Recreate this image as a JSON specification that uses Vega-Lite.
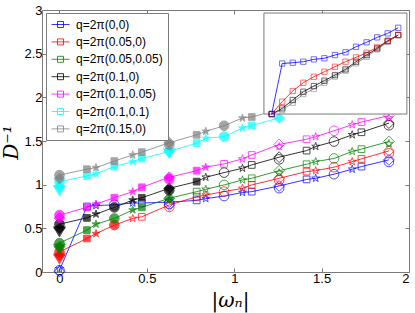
{
  "$schema": "https://vega.github.io/schema/vega-lite/v6.json",
  "width": 367,
  "height": 262,
  "autosize": {"type": "none"},
  "padding": {"left": 42, "top": 10, "right": 6, "bottom": 41},
  "background": "white",
  "config": {
    "view": {"stroke": null},
    "font": "Liberation Sans",
    "axis": {"domainColor": "#7a7a7a", "tickColor": "#7a7a7a", "tickSize": -4, "labelColor": "#000000", "labelFontSize": 13, "labelFont": "Liberation Sans", "grid": false, "labelPadding": 4}
  },
  "datasets": {
    "main": [
      {"q":"(0,0)","x":0,"y":0.02,"m":"o","set":"b"},
      {"q":"(0,0)","x":0.157,"y":0.75,"m":"s","set":"b"},
      {"q":"(0,0)","x":0.209,"y":0.76,"m":"p","set":"b"},
      {"q":"(0,0)","x":0.314,"y":0.77,"m":"o","set":"b"},
      {"q":"(0,0)","x":0.419,"y":0.79,"m":"p","set":"b"},
      {"q":"(0,0)","x":0.471,"y":0.79,"m":"s","set":"b"},
      {"q":"(0,0)","x":0.628,"y":0.8,"m":"d","set":"b"},
      {"q":"(0,0)","x":0.785,"y":0.82,"m":"s","set":"b"},
      {"q":"(0,0)","x":0.837,"y":0.84,"m":"p","set":"b"},
      {"q":"(0,0)","x":0.942,"y":0.87,"m":"o","set":"b"},
      {"q":"(0,0)","x":1.047,"y":0.91,"m":"p","set":"b"},
      {"q":"(0,0)","x":1.1,"y":0.92,"m":"s","set":"b"},
      {"q":"(0,0)","x":1.257,"y":0.985,"m":"d","set":"b"},
      {"q":"(0,0)","x":1.414,"y":1.06,"m":"s","set":"b"},
      {"q":"(0,0)","x":1.466,"y":1.073,"m":"p","set":"b"},
      {"q":"(0,0)","x":1.571,"y":1.12,"m":"o","set":"b"},
      {"q":"(0,0)","x":1.675,"y":1.177,"m":"p","set":"b"},
      {"q":"(0,0)","x":1.728,"y":1.207,"m":"s","set":"b"},
      {"q":"(0,0)","x":1.885,"y":1.284,"m":"d","set":"b"},

      {"q":"(0.05,0)","x":0,"y":0.23,"m":"o","set":"a"},
      {"q":"(0.05,0)","x":0.157,"y":0.384,"m":"s","set":"a"},
      {"q":"(0.05,0)","x":0.209,"y":0.44,"m":"p","set":"a"},
      {"q":"(0.05,0)","x":0.314,"y":0.537,"m":"o","set":"a"},
      {"q":"(0.05,0)","x":0.419,"y":0.613,"m":"p","set":"b"},
      {"q":"(0.05,0)","x":0.471,"y":0.632,"m":"s","set":"b"},
      {"q":"(0.05,0)","x":0.628,"y":0.767,"m":"d","set":"b"},
      {"q":"(0.05,0)","x":0.785,"y":0.862,"m":"s","set":"b"},
      {"q":"(0.05,0)","x":0.837,"y":0.882,"m":"p","set":"b"},
      {"q":"(0.05,0)","x":0.942,"y":0.92,"m":"o","set":"b"},
      {"q":"(0.05,0)","x":1.047,"y":0.958,"m":"p","set":"b"},
      {"q":"(0.05,0)","x":1.1,"y":0.997,"m":"s","set":"b"},
      {"q":"(0.05,0)","x":1.257,"y":1.073,"m":"d","set":"b"},
      {"q":"(0.05,0)","x":1.414,"y":1.15,"m":"s","set":"b"},
      {"q":"(0.05,0)","x":1.466,"y":1.16,"m":"p","set":"b"},
      {"q":"(0.05,0)","x":1.571,"y":1.2,"m":"o","set":"b"},
      {"q":"(0.05,0)","x":1.675,"y":1.264,"m":"p","set":"b"},
      {"q":"(0.05,0)","x":1.728,"y":1.295,"m":"s","set":"b"},
      {"q":"(0.05,0)","x":1.885,"y":1.387,"m":"d","set":"b"},

      {"q":"(0.05,0.05)","x":0,"y":0.33,"m":"o","set":"a"},
      {"q":"(0.05,0.05)","x":0.157,"y":0.48,"m":"s","set":"a"},
      {"q":"(0.05,0.05)","x":0.209,"y":0.548,"m":"p","set":"a"},
      {"q":"(0.05,0.05)","x":0.314,"y":0.613,"m":"o","set":"a"},
      {"q":"(0.05,0.05)","x":0.419,"y":0.71,"m":"p","set":"a"},
      {"q":"(0.05,0.05)","x":0.471,"y":0.74,"m":"s","set":"a"},
      {"q":"(0.05,0.05)","x":0.628,"y":0.844,"m":"d","set":"a"},
      {"q":"(0.05,0.05)","x":0.785,"y":0.92,"m":"s","set":"b"},
      {"q":"(0.05,0.05)","x":0.837,"y":0.947,"m":"p","set":"b"},
      {"q":"(0.05,0.05)","x":0.942,"y":0.997,"m":"o","set":"b"},
      {"q":"(0.05,0.05)","x":1.047,"y":1.054,"m":"p","set":"b"},
      {"q":"(0.05,0.05)","x":1.1,"y":1.073,"m":"s","set":"b"},
      {"q":"(0.05,0.05)","x":1.257,"y":1.16,"m":"d","set":"b"},
      {"q":"(0.05,0.05)","x":1.414,"y":1.234,"m":"s","set":"b"},
      {"q":"(0.05,0.05)","x":1.466,"y":1.264,"m":"p","set":"b"},
      {"q":"(0.05,0.05)","x":1.571,"y":1.3,"m":"o","set":"b"},
      {"q":"(0.05,0.05)","x":1.675,"y":1.38,"m":"p","set":"b"},
      {"q":"(0.05,0.05)","x":1.728,"y":1.407,"m":"s","set":"b"},
      {"q":"(0.05,0.05)","x":1.885,"y":1.494,"m":"d","set":"b"},

      {"q":"(0.1,0)","x":0,"y":0.548,"m":"o","set":"a"},
      {"q":"(0.1,0)","x":0.157,"y":0.62,"m":"s","set":"a"},
      {"q":"(0.1,0)","x":0.209,"y":0.663,"m":"p","set":"a"},
      {"q":"(0.1,0)","x":0.314,"y":0.74,"m":"o","set":"a"},
      {"q":"(0.1,0)","x":0.419,"y":0.824,"m":"p","set":"a"},
      {"q":"(0.1,0)","x":0.471,"y":0.85,"m":"s","set":"a"},
      {"q":"(0.1,0)","x":0.628,"y":0.958,"m":"d","set":"a"},
      {"q":"(0.1,0)","x":0.785,"y":1.035,"m":"s","set":"a"},
      {"q":"(0.1,0)","x":0.837,"y":1.085,"m":"p","set":"b"},
      {"q":"(0.1,0)","x":0.942,"y":1.138,"m":"o","set":"b"},
      {"q":"(0.1,0)","x":1.047,"y":1.188,"m":"p","set":"b"},
      {"q":"(0.1,0)","x":1.1,"y":1.226,"m":"s","set":"b"},
      {"q":"(0.1,0)","x":1.257,"y":1.315,"m":"d","set":"b"},
      {"q":"(0.1,0)","x":1.414,"y":1.39,"m":"s","set":"b"},
      {"q":"(0.1,0)","x":1.466,"y":1.437,"m":"p","set":"b"},
      {"q":"(0.1,0)","x":1.571,"y":1.494,"m":"o","set":"b"},
      {"q":"(0.1,0)","x":1.675,"y":1.571,"m":"p","set":"b"},
      {"q":"(0.1,0)","x":1.728,"y":1.6,"m":"s","set":"b"},
      {"q":"(0.1,0)","x":1.885,"y":1.705,"m":"d","set":"b"},

      {"q":"(0.1,0.05)","x":0,"y":0.652,"m":"o","set":"a"},
      {"q":"(0.1,0.05)","x":0.157,"y":0.74,"m":"s","set":"a"},
      {"q":"(0.1,0.05)","x":0.209,"y":0.778,"m":"p","set":"a"},
      {"q":"(0.1,0.05)","x":0.314,"y":0.85,"m":"s","set":"a"},
      {"q":"(0.1,0.05)","x":0.419,"y":0.92,"m":"p","set":"a"},
      {"q":"(0.1,0.05)","x":0.471,"y":0.97,"m":"s","set":"a"},
      {"q":"(0.1,0.05)","x":0.628,"y":1.085,"m":"d","set":"a"},
      {"q":"(0.1,0.05)","x":0.785,"y":1.16,"m":"s","set":"a"},
      {"q":"(0.1,0.05)","x":0.837,"y":1.2,"m":"p","set":"a"},
      {"q":"(0.1,0.05)","x":0.942,"y":1.238,"m":"s","set":"b"},
      {"q":"(0.1,0.05)","x":1.047,"y":1.295,"m":"p","set":"b"},
      {"q":"(0.1,0.05)","x":1.1,"y":1.34,"m":"s","set":"b"},
      {"q":"(0.1,0.05)","x":1.257,"y":1.46,"m":"d","set":"b"},
      {"q":"(0.1,0.05)","x":1.414,"y":1.52,"m":"s","set":"b"},
      {"q":"(0.1,0.05)","x":1.466,"y":1.55,"m":"p","set":"b"},
      {"q":"(0.1,0.05)","x":1.571,"y":1.617,"m":"o","set":"b"},
      {"q":"(0.1,0.05)","x":1.675,"y":1.686,"m":"p","set":"b"},
      {"q":"(0.1,0.05)","x":1.728,"y":1.717,"m":"s","set":"b"},
      {"q":"(0.1,0.05)","x":1.885,"y":1.79,"m":"d","set":"b"},

      {"q":"(0.1,0.1)","x":0,"y":1.034,"m":"o","set":"a"},
      {"q":"(0.1,0.1)","x":0.157,"y":1.1,"m":"s","set":"a"},
      {"q":"(0.1,0.1)","x":0.209,"y":1.123,"m":"p","set":"a"},
      {"q":"(0.1,0.1)","x":0.314,"y":1.207,"m":"s","set":"a"},
      {"q":"(0.1,0.1)","x":0.419,"y":1.264,"m":"p","set":"a"},
      {"q":"(0.1,0.1)","x":0.471,"y":1.3,"m":"s","set":"a"},
      {"q":"(0.1,0.1)","x":0.628,"y":1.38,"m":"d","set":"a"},
      {"q":"(0.1,0.1)","x":0.785,"y":1.476,"m":"s","set":"a"},
      {"q":"(0.1,0.1)","x":0.837,"y":1.53,"m":"p","set":"a"},
      {"q":"(0.1,0.1)","x":0.942,"y":1.55,"m":"o","set":"a"},
      {"q":"(0.1,0.1)","x":1.047,"y":1.648,"m":"p","set":"a"},
      {"q":"(0.1,0.1)","x":1.1,"y":1.678,"m":"s","set":"a"},
      {"q":"(0.1,0.1)","x":1.257,"y":1.763,"m":"d","set":"a"},

      {"q":"(0.15,0)","x":0,"y":1.11,"m":"o","set":"a"},
      {"q":"(0.15,0)","x":0.157,"y":1.177,"m":"s","set":"a"},
      {"q":"(0.15,0)","x":0.209,"y":1.195,"m":"p","set":"a"},
      {"q":"(0.15,0)","x":0.314,"y":1.27,"m":"s","set":"a"},
      {"q":"(0.15,0)","x":0.419,"y":1.34,"m":"p","set":"a"},
      {"q":"(0.15,0)","x":0.471,"y":1.372,"m":"s","set":"a"},
      {"q":"(0.15,0)","x":0.628,"y":1.48,"m":"d","set":"a"},
      {"q":"(0.15,0)","x":0.785,"y":1.571,"m":"s","set":"a"},
      {"q":"(0.15,0)","x":0.837,"y":1.61,"m":"p","set":"a"},
      {"q":"(0.15,0)","x":0.942,"y":1.675,"m":"o","set":"a"},
      {"q":"(0.15,0)","x":1.047,"y":1.763,"m":"p","set":"a"},
      {"q":"(0.15,0)","x":1.1,"y":1.775,"m":"s","set":"a"},
      {"q":"(0.15,0)","x":1.257,"y":1.86,"m":"d","set":"a"}
    ],
    "extra": [
      {"q":"(0,0)","x":0,"y":0.035,"m":"p","set":"b"},
      {"q":"(0,0)","x":0,"y":0.005,"m":"d","set":"b"},
      {"q":"(0.05,0)","x":0,"y":0.19,"m":"d","set":"a"},
      {"q":"(0.05,0)","x":0,"y":0.15,"m":"v","set":"a"},
      {"q":"(0.05,0.05)","x":0,"y":0.29,"m":"d","set":"a"},
      {"q":"(0.05,0.05)","x":0,"y":0.26,"m":"v","set":"a"},
      {"q":"(0.1,0)","x":0,"y":0.5,"m":"d","set":"a"},
      {"q":"(0.1,0)","x":0,"y":0.46,"m":"v","set":"a"},
      {"q":"(0.1,0.05)","x":0,"y":0.62,"m":"d","set":"a"},
      {"q":"(0.1,0.1)","x":0,"y":0.98,"m":"d","set":"a"},
      {"q":"(0.1,0.1)","x":0,"y":0.93,"m":"v","set":"a"},
      {"q":"(0.15,0)","x":0,"y":1.07,"m":"d","set":"a"},
      {"q":"(0,0)","x":0.628,"y":0.78,"m":"o","set":"b"},
      {"q":"(0.05,0)","x":0.628,"y":0.745,"m":"o","set":"b"},
      {"q":"(0.05,0.05)","x":0.628,"y":0.82,"m":"p","set":"a"},
      {"q":"(0.1,0)","x":0.628,"y":0.935,"m":"o","set":"a"},
      {"q":"(0.1,0.05)","x":0.628,"y":1.06,"m":"o","set":"a"},
      {"q":"(0.1,0.1)","x":0.628,"y":1.355,"m":"v","set":"a"},
      {"q":"(0.15,0)","x":0.628,"y":1.455,"m":"o","set":"a"},
      {"q":"(0,0)","x":1.257,"y":0.96,"m":"o","set":"b"},
      {"q":"(0.05,0)","x":1.257,"y":1.05,"m":"o","set":"b"},
      {"q":"(0.05,0.05)","x":1.257,"y":1.135,"m":"p","set":"b"},
      {"q":"(0.1,0)","x":1.257,"y":1.29,"m":"o","set":"b"},
      {"q":"(0.1,0.05)","x":1.257,"y":1.435,"m":"p","set":"b"},
      {"q":"(0,0)","x":1.885,"y":1.26,"m":"o","set":"b"},
      {"q":"(0.05,0)","x":1.885,"y":1.36,"m":"o","set":"b"},
      {"q":"(0.05,0.05)","x":1.885,"y":1.47,"m":"p","set":"b"},
      {"q":"(0.1,0)","x":1.885,"y":1.68,"m":"o","set":"b"},
      {"q":"(0.1,0.05)","x":1.885,"y":1.765,"m":"p","set":"b"}
    ],
    "inset": [
      {"q":"(0.15,0)","n":0,"y":0},{"q":"(0.15,0)","n":1,"y":0.04},{"q":"(0.15,0)","n":2,"y":0.112},{"q":"(0.15,0)","n":3,"y":0.198},{"q":"(0.15,0)","n":4,"y":0.248},{"q":"(0.15,0)","n":5,"y":0.31},{"q":"(0.15,0)","n":6,"y":0.37},{"q":"(0.15,0)","n":7,"y":0.429},{"q":"(0.15,0)","n":8,"y":0.502},{"q":"(0.15,0)","n":9,"y":0.567},{"q":"(0.15,0)","n":10,"y":0.64},{"q":"(0.15,0)","n":11,"y":0.713},{"q":"(0.15,0)","n":12,"y":0.782},
      {"q":"(0.1,0)","n":0,"y":0},{"q":"(0.1,0)","n":1,"y":0.056},{"q":"(0.1,0)","n":2,"y":0.139},{"q":"(0.1,0)","n":3,"y":0.221},{"q":"(0.1,0)","n":4,"y":0.277},{"q":"(0.1,0)","n":5,"y":0.33},{"q":"(0.1,0)","n":6,"y":0.386},{"q":"(0.1,0)","n":7,"y":0.442},{"q":"(0.1,0)","n":8,"y":0.518},{"q":"(0.1,0)","n":9,"y":0.584},{"q":"(0.1,0)","n":10,"y":0.65},{"q":"(0.1,0)","n":11,"y":0.723},{"q":"(0.1,0)","n":12,"y":0.782},
      {"q":"(0.05,0)","n":0,"y":0},{"q":"(0.05,0)","n":1,"y":0.122},{"q":"(0.05,0)","n":2,"y":0.228},{"q":"(0.05,0)","n":3,"y":0.31},{"q":"(0.05,0)","n":4,"y":0.369},{"q":"(0.05,0)","n":5,"y":0.419},{"q":"(0.05,0)","n":6,"y":0.468},{"q":"(0.05,0)","n":7,"y":0.518},{"q":"(0.05,0)","n":8,"y":0.561},{"q":"(0.05,0)","n":9,"y":0.607},{"q":"(0.05,0)","n":10,"y":0.66},{"q":"(0.05,0)","n":11,"y":0.726},{"q":"(0.05,0)","n":12,"y":0.782},
      {"q":"(0,0)","n":0,"y":0},{"q":"(0,0)","n":1,"y":0.5},{"q":"(0,0)","n":2,"y":0.508},{"q":"(0,0)","n":3,"y":0.518},{"q":"(0,0)","n":4,"y":0.541},{"q":"(0,0)","n":5,"y":0.552},{"q":"(0,0)","n":6,"y":0.584},{"q":"(0,0)","n":7,"y":0.611},{"q":"(0,0)","n":8,"y":0.666},{"q":"(0,0)","n":9,"y":0.71},{"q":"(0,0)","n":10,"y":0.759},{"q":"(0,0)","n":11,"y":0.799},{"q":"(0,0)","n":12,"y":0.854}
    ]
  },
  "layer": [
    {
      "layer": [
        {
          "data": {"name": "main"},
          "mark": {"type": "line", "strokeWidth": 0.8},
          "encoding": {
            "x": {"field": "x", "type": "quantitative", "scale": {"domain": [-0.1, 2], "nice": false, "zero": false},
                  "axis": {"orient": "bottom", "values": [0, 0.5, 1, 1.5, 2], "format": "~g", "title": "|ωₙ|", "titleFont": "DejaVu Serif", "titleFontStyle": "italic", "titleFontWeight": "normal", "titleFontSize": 20, "titleColor": "#000000", "titleX": 188, "titleY": 34, "titleAlign": "center", "titleBaseline": "alphabetic"}},
            "y": {"field": "y", "type": "quantitative", "scale": {"domain": [0, 3], "nice": false, "zero": false},
                  "axis": {"orient": "left", "values": [0, 0.5, 1, 1.5, 2, 2.5, 3], "format": "~g", "title": "D⁻¹", "titleFont": "DejaVu Serif", "titleFontStyle": "italic", "titleFontWeight": "normal", "titleFontSize": 20, "titleColor": "#000000", "titleX": -25, "titleY": 132, "titleAngle": -90, "titleAlign": "center", "titleBaseline": "alphabetic"}},
            "color": {"field": "q", "type": "nominal",
                      "scale": {"domain": ["(0,0)", "(0.05,0)", "(0.05,0.05)", "(0.1,0)", "(0.1,0.05)", "(0.1,0.1)", "(0.15,0)"], "range": ["#0000ff", "#ff0000", "#008000", "#000000", "#ff00ff", "#00ffff", "#808080"]},
                      "legend": {"orient": "none", "legendX": 4, "legendY": 3, "title": null, "strokeColor": "#7a7a7a", "fillColor": "white", "padding": 5, "symbolType": "M-1.5,0H1.5M-0.5,-0.5H0.5V0.5H-0.5Z", "symbolSize": 144, "symbolStrokeWidth": 0.8, "labelFontSize": 12, "labelFont": "Liberation Sans", "labelColor": "#000000", "labelOffset": 9, "rowPadding": 4.4, "symbolOffset": 3, "labelExpr": "'q=2π' + datum.label", "cornerRadius": 0,
                                 "encode": {"symbols": {"update": {"fill": {"value": "transparent"}, "fillOpacity": {"value": 0}}}}}},
            "order": {"field": "x", "type": "quantitative"}
          }
        },
        {
          "data": {"name": "main"},
          "mark": {"type": "point", "filled": true, "strokeWidth": 1},
          "encoding": {
            "x": {"field": "x", "type": "quantitative", "scale": {"domain": [-0.1, 2], "nice": false, "zero": false},
                  "axis": {"orient": "top", "values": [0, 0.5, 1, 1.5, 2], "labels": false, "title": null}},
            "y": {"field": "y", "type": "quantitative", "scale": {"domain": [0, 3], "nice": false, "zero": false},
                  "axis": {"orient": "right", "values": [0, 0.5, 1, 1.5, 2, 2.5, 3], "labels": false, "title": null}},
            "shape": {"field": "m", "type": "nominal", "legend": null,
                      "scale": {"domain": ["s", "p", "o", "d", "v"], "range": ["square", "M0,-1L0.225,-0.309L0.951,-0.309L0.363,0.118L0.588,0.809L0,0.382L-0.588,0.809L-0.363,0.118L-0.951,-0.309L-0.225,-0.309Z", "circle", "diamond", "triangle-down"]}},
            "size": {"field": "m", "type": "nominal", "legend": null,
                     "scale": {"domain": ["s", "p", "o", "d", "v"], "range": [45, 140, 55, 100, 70]}},
            "stroke": {"field": "q", "type": "nominal", "legend": null,
                       "scale": {"domain": ["(0,0)", "(0.05,0)", "(0.05,0.05)", "(0.1,0)", "(0.1,0.05)", "(0.1,0.1)", "(0.15,0)"], "range": ["#0000ff", "#ff0000", "#008000", "#000000", "#ff00ff", "#00ffff", "#808080"]}},
            "fill": {"field": "q", "type": "nominal", "legend": null,
                     "scale": {"domain": ["(0,0)", "(0.05,0)", "(0.05,0.05)", "(0.1,0)", "(0.1,0.05)", "(0.1,0.1)", "(0.15,0)"], "range": ["#0000ff", "#ff0000", "#008000", "#000000", "#ff00ff", "#00ffff", "#808080"]}},
            "fillOpacity": {"field": "set", "type": "nominal", "legend": null, "scale": {"domain": ["a", "b"], "range": [1, 0]}}
          }
        },
        {
          "data": {"name": "extra"},
          "mark": {"type": "point", "filled": true, "strokeWidth": 1},
          "encoding": {
            "x": {"field": "x", "type": "quantitative", "scale": {"domain": [-0.1, 2], "nice": false, "zero": false}, "axis": null},
            "y": {"field": "y", "type": "quantitative", "scale": {"domain": [0, 3], "nice": false, "zero": false}, "axis": null},
            "shape": {"field": "m", "type": "nominal", "legend": null},
            "size": {"field": "m", "type": "nominal", "legend": null},
            "stroke": {"field": "q", "type": "nominal", "legend": null},
            "fill": {"field": "q", "type": "nominal", "legend": null},
            "fillOpacity": {"field": "set", "type": "nominal", "legend": null}
          }
        }
      ],
      "resolve": {"axis": {"x": "independent", "y": "independent"}}
    },
    {
      "layer": [
        {
          "data": {"values": [{}]},
          "mark": {"type": "rect", "fill": "white", "stroke": "#7a7a7a", "strokeWidth": 1},
          "encoding": {
            "x": {"datum": -0.73, "type": "quantitative", "scale": {"domain": [-21.77, 13.02], "nice": false, "zero": false}, "axis": null},
            "x2": {"datum": 12.82},
            "y": {"datum": 0, "type": "quantitative", "scale": {"domain": [-1.564, 1.03], "nice": false, "zero": false}, "axis": null},
            "y2": {"datum": 1}
          }
        },
        {
          "data": {"name": "inset"},
          "mark": {"type": "line", "strokeWidth": 0.8},
          "encoding": {
            "x": {"field": "n", "type": "quantitative", "axis": null},
            "y": {"field": "y", "type": "quantitative", "axis": null},
            "stroke": {"field": "q", "type": "nominal", "legend": null},
            "order": {"field": "n", "type": "quantitative"}
          }
        },
        {
          "data": {"name": "inset"},
          "mark": {"type": "point", "shape": "square", "size": 28, "strokeWidth": 0.8, "filled": false},
          "encoding": {
            "x": {"field": "n", "type": "quantitative", "axis": null},
            "y": {"field": "y", "type": "quantitative", "axis": null},
            "stroke": {"field": "q", "type": "nominal", "legend": null}
          }
        }
      ]
    }
  ],
  "resolve": {"scale": {"x": "independent", "y": "independent"}}
}
